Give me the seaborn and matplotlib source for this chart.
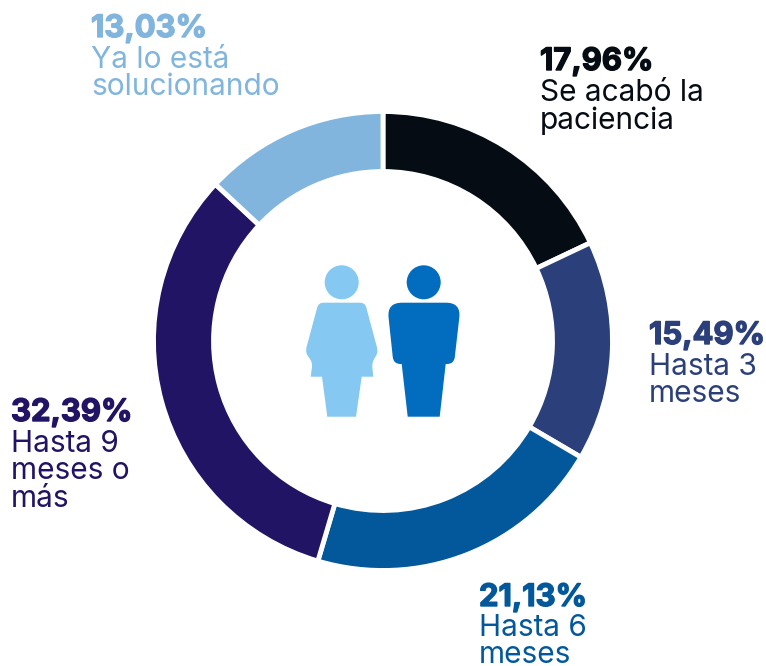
import numpy as np
import matplotlib
matplotlib.use("Agg")
import matplotlib.pyplot as plt
import matplotlib.patheffects as pe
from matplotlib.patches import Circle, PathPatch
from matplotlib.path import Path
import seaborn as sns

sns.set_theme(style="white")
plt.rcParams['font.family'] = ['Inter', 'DejaVu Sans']

values = [17.96, 15.49, 21.13, 32.39, 13.03]
pct_labels = ["17,96%", "15,49%", "21,13%", "32,39%", "13,03%"]
names = ["Se acabó la\npaciencia", "Hasta 3\nmeses", "Hasta 6\nmeses", "Hasta 9\nmeses o\nmás", "Ya lo está\nsolucionando"]
colors = ["#060c14", "#2b3f7a", "#03589c", "#211465", "#81b5de"]
W, H = 766, 666
fig = plt.figure(figsize=(W/100, H/100), dpi=100)
ax = fig.add_axes([0, 0, 1, 1])
cx, cy, R = 383, 341, 229.5
ax.pie(values, colors=colors, startangle=-90, counterclock=True, center=(cx, cy), radius=R,
       wedgeprops=dict(width=60, edgecolor="white", linewidth=3.5), frame=False)
ax.set_xlim(0, W); ax.set_ylim(H, 0); ax.set_aspect("auto"); ax.axis("off")

pos = [(540, 62), (649, 336), (479, 598), (11, 413), (91, 29)]
name_y = [78, 352, 614, 429, 45]
for (x, y), ny, p, n, c in zip(pos, name_y, pct_labels, names, colors):
    ax.text(x, y, p, color=c, fontsize=22.3, fontweight="bold", va="center", ha="left",
            path_effects=[pe.withStroke(linewidth=1.0, foreground=c)])
    ax.text(x, ny + (1 if ny != 614 else 0), n, color=c, fontsize=21.5, va="top", ha="left", linespacing=0.97)


def rounded(points, radii):
    verts, codes = [], []
    n = len(points)
    for i, (p, r) in enumerate(zip(points, radii)):
        p = np.array(p, float)
        a = np.array(points[i-1], float); b = np.array(points[(i+1) % n], float)
        p1 = p + (a-p)/np.linalg.norm(a-p)*r
        p2 = p + (b-p)/np.linalg.norm(b-p)*r
        verts.append(p1); codes.append(Path.MOVETO if i == 0 else Path.LINETO)
        verts += [p, p2]; codes += [Path.CURVE3, Path.CURVE3]
    verts.append(verts[0]); codes.append(Path.CLOSEPOLY)
    return Path(verts, codes)

f = "#85c8f1"; m = "#026dbf"
ax.add_patch(Circle((341.7, 282.3), 17, color=f, lw=0))
woman = [(318.5,302.7),(365,302.7),(378.5,353),(371.7,361.7),(373.3,376.7),(361.7,376.7),(356,416.7),
         (327.3,416.7),(322,376.7),(310.7,376.7),(312.7,361.7),(305,353)]
ax.add_patch(PathPatch(rounded(woman,[5,5,6,6,.01,.01,.01,.01,.01,.01,6,6]), color=f, lw=0))
ax.add_patch(Circle((423.7, 282.3), 17, color=m, lw=0))
man = [(387,302.7),(461,302.7),(454,364),(445.7,364),(439.7,416.7),(407.7,416.7),(401.7,364),(393.5,364)]
ax.add_patch(PathPatch(rounded(man,[15,15,7,.01,.01,.01,.01,7]), color=m, lw=0))
fig.savefig("out.png", dpi=100)
